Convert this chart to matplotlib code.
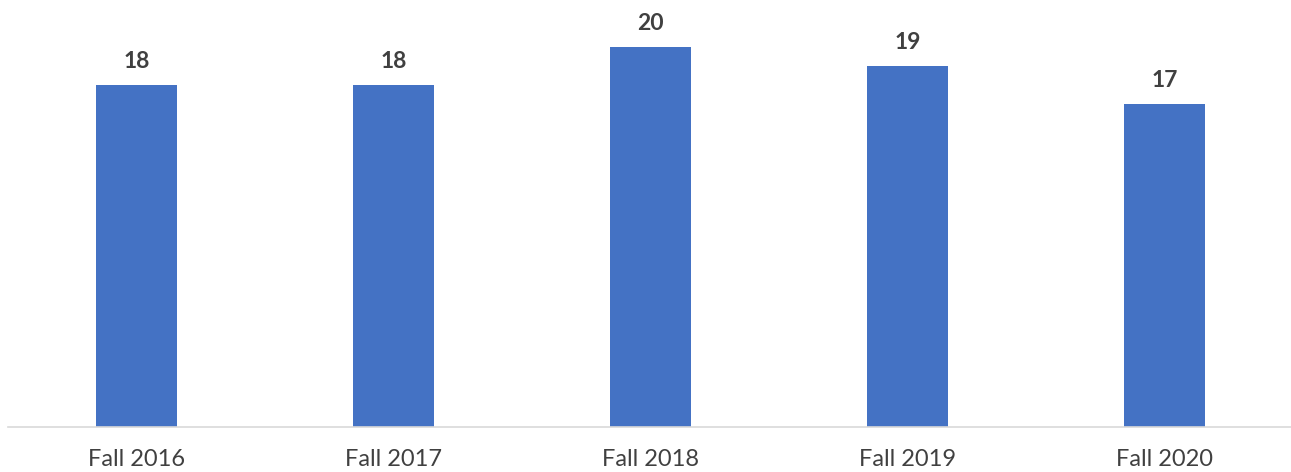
import numpy as np
import matplotlib
matplotlib.use('Agg')
import matplotlib.pyplot as plt

# chart data
categories = ['Fall 2016', 'Fall 2017', 'Fall 2018', 'Fall 2019', 'Fall 2020']
values = [18, 18, 20, 19, 17]

W, H = 1291, 472
fig = plt.figure(figsize=(W / 100, H / 100), dpi=100)
ax = fig.add_axes([8 / W, 45 / H, 1285 / W, 427 / H])

x = np.arange(len(categories))
bars = ax.bar(x, values, width=0.315, color='#4472C4', zorder=2)

for bar, val in zip(bars, values):
    ax.annotate(f'{val}', xy=(bar.get_x() + bar.get_width() / 2, bar.get_height()),
                xytext=(0, 12), textcoords='offset points',
                ha='center', va='baseline', fontsize=16.5, fontweight='bold',
                family='Lato', color='#404040')

ax.set_xlim(-0.5, len(categories) - 0.5)
ax.set_ylim(0, 22.47)
ax.set_xticks(x)
ax.set_xticklabels(categories, fontsize=17, family='Lato', color='#404040')
ax.tick_params(axis='x', length=0, pad=15.5)
ax.set_yticks([])

for side in ['top', 'right', 'left']:
    ax.spines[side].set_visible(False)
ax.spines['bottom'].set_color('#d9d9d9')
ax.spines['bottom'].set_linewidth(1.2)

fig.savefig('out.png', dpi=100)
plt.close(fig)
